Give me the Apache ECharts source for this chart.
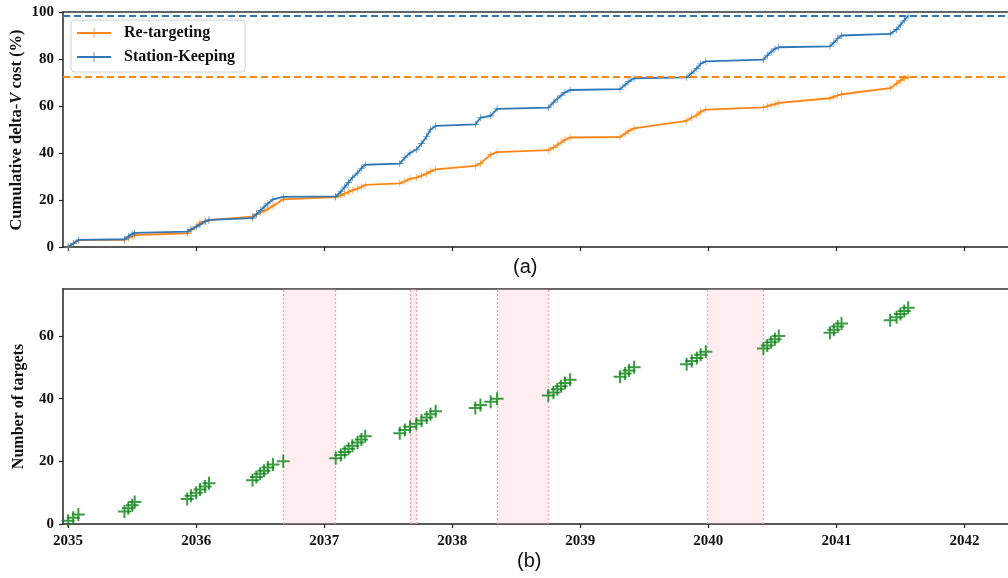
<!DOCTYPE html>
<html>
<head>
<meta charset="utf-8">
<script src="https://cdn.jsdelivr.net/npm/echarts@6/dist/echarts.min.js"></script>
<style>
  html, body { margin: 0; padding: 0; background: #fff; }
  #chart { width: 1008px; height: 578px; }
</style>
</head>
<body>
<div id="chart"></div>
<script>
// Epoch (decimal year) at which each target is visited
const targetTimes = [
  2035.00, 2035.04, 2035.08,
  2035.44, 2035.47, 2035.50, 2035.52,
  2035.93, 2035.96, 2036.00, 2036.03, 2036.07, 2036.10,
  2036.44, 2036.47, 2036.50, 2036.53, 2036.56, 2036.60, 2036.68,
  2037.09, 2037.13, 2037.16, 2037.19, 2037.22, 2037.26, 2037.29, 2037.32,
  2037.59, 2037.63, 2037.67, 2037.72, 2037.76, 2037.80, 2037.83, 2037.87,
  2038.18, 2038.22, 2038.30, 2038.35,
  2038.75, 2038.79, 2038.82, 2038.85, 2038.88, 2038.92,
  2039.31, 2039.35, 2039.38, 2039.42,
  2039.83, 2039.87, 2039.91, 2039.94, 2039.98,
  2040.43, 2040.46, 2040.49, 2040.52, 2040.55,
  2040.95, 2040.98, 2041.01, 2041.04,
  2041.42, 2041.47, 2041.50, 2041.53, 2041.56
];

// Running count of targets reached
const targetCount = [
  1, 2, 3,
  4, 5, 6, 7,
  8, 9, 10, 11, 12, 13,
  14, 15, 16, 17, 18, 19, 20,
  21, 22, 23, 24, 25, 26, 27, 28,
  29, 30, 31, 32, 33, 34, 35, 36,
  37, 38, 39, 40,
  41, 42, 43, 44, 45, 46,
  47, 48, 49, 50,
  51, 52, 53, 54, 55,
  56, 57, 58, 59, 60,
  61, 62, 63, 64,
  65, 66, 67, 68, 69
];

// Cumulative delta-V cost (%) for the re-targeting strategy
const retargetingCost = [
  0, 1.5, 2.9,
  3.0, 3.8, 4.5, 5.1,
  5.8, 7.2, 8.8, 10.3, 11.0, 11.4,
  12.9, 13.8, 14.6, 15.3, 16.2, 17.5, 20.3,
  21.2, 22.0, 22.7, 23.4, 24.1, 24.8, 25.6, 26.4,
  27.1, 28.0, 29.0, 29.5, 30.3, 31.2, 32.2, 33.0,
  34.5, 35.6, 39.3, 40.4,
  41.2, 42.3, 43.4, 44.5, 45.6, 46.6,
  46.8, 48.2, 49.4, 50.5,
  53.7, 55.0, 56.2, 57.5, 58.5,
  59.4, 59.9, 60.4, 60.8, 61.3,
  63.3, 63.9, 64.5, 65.0,
  67.6, 69.6, 70.9, 71.8, 72.3
];

// Cumulative delta-V cost (%) for the station-keeping strategy
const stationKeepingCost = [
  0, 1.5, 3.0,
  3.3, 4.5, 5.5, 6.0,
  6.5, 7.5, 8.5, 9.5, 10.8, 11.5,
  12.3, 14.0, 15.5, 17.0, 18.5, 20.3, 21.3,
  21.5, 23.5, 25.5, 27.5, 29.5, 31.5, 33.5, 35.0,
  35.5, 38.0, 40.0, 41.5, 44.0, 47.0, 50.0, 51.5,
  52.2, 55.0, 55.8, 58.8,
  59.3, 61.5, 63.0, 64.5, 65.8, 66.8,
  67.2, 69.0, 70.5, 71.8,
  72.2, 74.0, 76.0, 78.0, 79.0,
  79.7, 81.5, 83.0, 84.3, 85.0,
  85.4, 87.0, 88.7, 90.0,
  90.7, 92.5, 94.5, 96.5, 98.3
];

// Total cost levels of each strategy
const retargetingTotal = 72.3;
const stationKeepingTotal = 98.3;

// Idle intervals (start / end epochs)
const idleStart = [2036.68, 2037.67, 2038.35, 2039.99];
const idleEnd   = [2037.09, 2037.72, 2038.75, 2040.43];

// Axis ticks
const yearTicks = [2035, 2036, 2037, 2038, 2039, 2040, 2041, 2042];
const costTicks = [0, 20, 40, 60, 80, 100];
const countTicks = [0, 20, 40, 60];

const SERIF = '"Liberation Serif", "DejaVu Serif", serif';
const BLUE = '#2f78b8';
const ORANGE = '#ff8412';
const GREEN = '#0d8316';

const plusSmall = 'path://M0,3.2H7V3.8H0Z M3.2,0H3.8V7H3.2Z';
const plusBig = 'path://M0,5.5H13V7.5H0Z M5.5,0H7.5V13H5.5Z';

// Visible time window (the plot runs off the right edge of the page)
const xMin = 2034.96, xMax = 2042.34;

const pair = (xs, ys) => xs.map((x, i) => [x, ys[i]]);

const tickLabel = { fontFamily: SERIF, fontWeight: 'bold', fontSize: 15, color: '#111' };
const axisLineStyle = { show: true, onZero: false, lineStyle: { color: '#222', width: 1.5 } };
const tickStyle = { show: true, length: 4, lineStyle: { color: '#222', width: 1.2 } };

// Upper spine of each panel
const frameTop = (gridIndex) => ({
  gridIndex, type: 'value', position: 'top', min: xMin, max: xMax,
  axisLine: { show: true, onZero: false, lineStyle: { color: '#333', width: 1.5 } },
  axisTick: { show: false }, axisLabel: { show: false }, splitLine: { show: false }
});

const chart = echarts.init(document.getElementById('chart'), null, { renderer: 'canvas' });

chart.setOption({
  animation: false,
  backgroundColor: '#fff',
  grid: [
    { left: 63, top: 12, right: 0, height: 235, outerBoundsMode: 'none', containLabel: false },
    { left: 63, top: 289, right: 0, height: 235, outerBoundsMode: 'none', containLabel: false }
  ],
  legend: {
    data: ['Re-targeting', 'Station-Keeping'],
    orient: 'vertical',
    left: 71,
    top: 20,
    padding: [5, 10, 7, 5],
    itemWidth: 34,
    itemHeight: 12,
    itemGap: 8,
    borderColor: '#d0d0d0',
    borderWidth: 1,
    borderRadius: 4,
    backgroundColor: 'rgba(255,255,255,0.9)',
    textStyle: { fontFamily: SERIF, fontWeight: 'bold', fontSize: 16, color: '#111', padding: [0, 0, 0, 8] }
  },
  xAxis: [
    {
      gridIndex: 0, type: 'value', min: xMin, max: xMax,
      axisLine: axisLineStyle,
      axisTick: Object.assign({ customValues: yearTicks }, tickStyle),
      axisLabel: { show: false },
      splitLine: { show: false }
    },
    {
      gridIndex: 1, type: 'value', min: xMin, max: xMax,
      axisLine: axisLineStyle,
      axisTick: Object.assign({ customValues: yearTicks }, tickStyle),
      axisLabel: Object.assign({ customValues: yearTicks, margin: 10, formatter: v => String(Math.round(v)) }, tickLabel),
      splitLine: { show: false }
    },
    frameTop(0),
    frameTop(1)
  ],
  yAxis: [
    {
      gridIndex: 0, type: 'value', min: 0, max: 100,
      axisLine: axisLineStyle,
      axisTick: Object.assign({ customValues: costTicks }, tickStyle),
      axisLabel: Object.assign({ customValues: costTicks, margin: 9 }, tickLabel),
      splitLine: { show: false }
    },
    {
      gridIndex: 1, type: 'value', min: 0, max: 75,
      axisLine: axisLineStyle,
      axisTick: Object.assign({ customValues: countTicks }, tickStyle),
      axisLabel: Object.assign({ customValues: countTicks, margin: 9 }, tickLabel),
      splitLine: { show: false },
      name: 'Number of targets',
      nameLocation: 'middle',
      nameRotate: 90,
      nameGap: 36,
      nameTextStyle: { fontFamily: SERIF, fontWeight: 'bold', fontSize: 16, color: '#111' }
    }
  ],
  series: [
    {
      name: 'Re-targeting',
      type: 'line',
      xAxisIndex: 0, yAxisIndex: 0,
      data: pair(targetTimes, retargetingCost),
      symbol: plusSmall,
      symbolSize: 7,
      showSymbol: true,
      lineStyle: { color: ORANGE, width: 1.8 },
      itemStyle: { color: ORANGE },
      z: 3,
      markLine: {
        silent: true,
        symbol: 'none',
        label: { show: false },
        lineStyle: { color: ORANGE, type: [7, 4], width: 1.8 },
        data: [{ yAxis: retargetingTotal }]
      }
    },
    {
      name: 'Station-Keeping',
      type: 'line',
      xAxisIndex: 0, yAxisIndex: 0,
      data: pair(targetTimes, stationKeepingCost),
      symbol: plusSmall,
      symbolSize: 7,
      showSymbol: true,
      lineStyle: { color: BLUE, width: 1.8 },
      itemStyle: { color: BLUE },
      z: 4,
      markLine: {
        silent: true,
        symbol: 'none',
        label: { show: false },
        lineStyle: { color: BLUE, type: [7, 4], width: 1.8 },
        data: [{ yAxis: stationKeepingTotal }]
      }
    },
    {
      name: 'Targets',
      type: 'scatter',
      xAxisIndex: 1, yAxisIndex: 1,
      data: pair(targetTimes, targetCount),
      symbol: plusBig,
      symbolSize: 13,
      itemStyle: { color: GREEN },
      z: 5,
      markArea: {
        silent: true,
        itemStyle: { color: 'rgba(255,190,200,0.28)' },
        data: idleStart.map((s, i) => [{ xAxis: s }, { xAxis: idleEnd[i] }])
      },
      markLine: {
        silent: true,
        symbol: 'none',
        label: { show: false },
        lineStyle: { color: '#f4a3ae', type: [2, 2], width: 1.3 },
        data: idleStart.concat(idleEnd).map(v => ({ xAxis: v }))
      }
    }
  ],
  graphic: [
    // Title of the cost axis, with an italic V
    {
      type: 'text', x: 17, y: 130, rotation: Math.PI / 2,
      style: {
        text: '{b|Cumulative delta-}{i|V}{b| cost (%)}',
        align: 'center', verticalAlign: 'middle',
        rich: {
          b: { fontFamily: SERIF, fontWeight: 'bold', fontSize: 16.5, fill: '#111' },
          i: { fontFamily: SERIF, fontWeight: 'bold', fontStyle: 'italic', fontSize: 16.5, fill: '#111' }
        }
      }
    },
    { type: 'text', left: 513, top: 257, style: { text: '(a)', font: '20px "Liberation Sans", "DejaVu Sans", sans-serif', fill: '#111' } },
    { type: 'text', left: 517, top: 551, style: { text: '(b)', font: '20px "Liberation Sans", "DejaVu Sans", sans-serif', fill: '#111' } }
  ]
});
</script>
</body>
</html>
